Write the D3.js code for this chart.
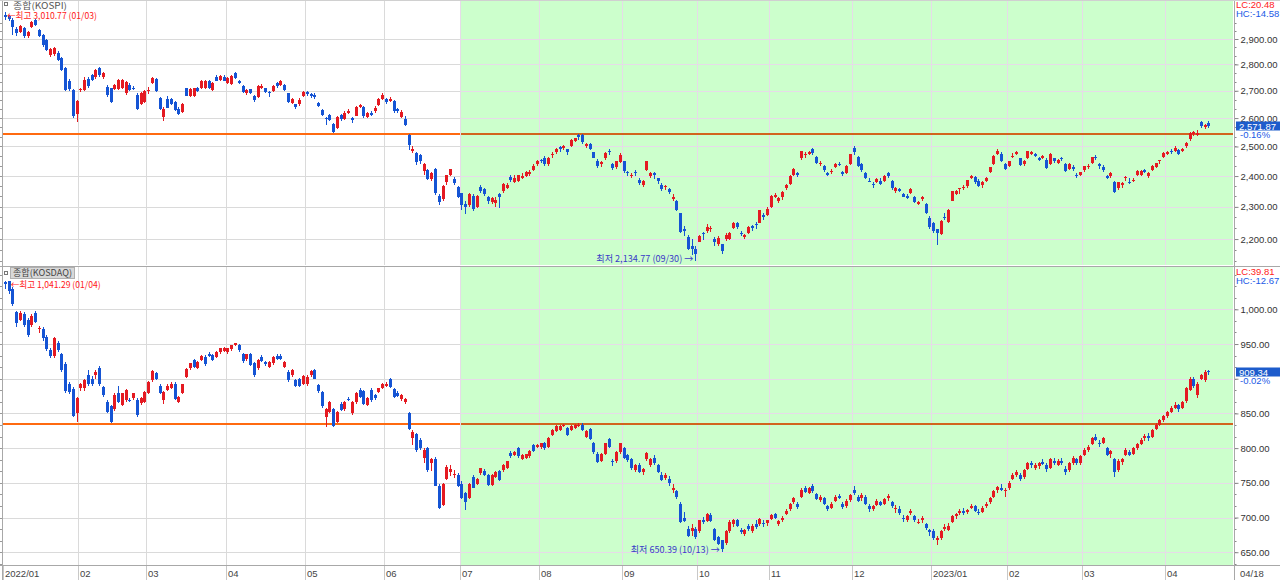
<!DOCTYPE html>
<html><head><meta charset="utf-8">
<script src="https://cdn.jsdelivr.net/npm/d3@7"></script>
<style>
body{margin:0;background:#fff;overflow:hidden}
svg{display:block}
text{font-family:"Liberation Sans",Arial,sans-serif;font-size:9.5px}
.kr{font-family:"Noto Sans CJK KR","Liberation Sans",sans-serif}
</style></head>
<body><svg id="c" width="1280" height="580"></svg>
<script>
// ---------------- DATA ----------------
const monthLabels = ["2022/01","02","03","04","05","06","07","08","09","10","11","12","2023/01","02","03","04"];
const monthDays   = [20,18,21,21,21,20,21,22,20,19,22,21,20,20,22,12];
const lastDateLabel = "04/18";
const shadeStartMonth = 6; // green region starts 2022/07

const kospiTicks  = [2200,2300,2400,2500,2600,2700,2800,2900];
const kosdaqTicks = [650,700,750,800,850,900,950,1000];
const kospiLevel  = 2543;
const kosdaqLevel = 835;

// KOSPI daily [open, high, low, close]
const kospi = [
// 2022/01
[2998,3010.77,2979,2989],[2992,2998,2972,2982],[2978,2987,2915,2950],[2942,2947,2912,2925],[2930,2958,2925,2952],[2944,2947,2905,2912],[2913,2932,2905,2928],[2947,2975,2945,2968],[2976,2980,2952,2958],[2938,2942,2908,2914],[2915,2920,2870,2878],[2898,2902,2852,2858],[2838,2866,2828,2862],[2840,2868,2832,2863],[2846,2852,2812,2818],[2823,2830,2774,2778],[2785,2790,2698,2702],[2738,2745,2700,2706],[2704,2708,2600,2608],[2613,2665,2585,2662],
// 02
[2702,2712,2695,2706],[2702,2752,2698,2741],[2745,2752,2712,2718],[2760,2765,2735,2740],[2750,2782,2745,2777],[2785,2790,2752,2760],[2752,2772,2745,2768],[2713,2720,2678,2684],[2709,2712,2654,2660],[2707,2725,2702,2720],[2707,2745,2702,2740],[2712,2746,2705,2742],[2692,2738,2686,2733],[2722,2728,2700,2704],[2712,2716,2702,2706],[2686,2690,2628,2633],[2652,2694,2648,2690],[2660,2702,2655,2699],
// 03
[2698,2715,2688,2704],[2728,2752,2725,2748],[2743,2748,2696,2700],[2672,2676,2630,2634],[2603,2640,2588,2634],[2670,2682,2635,2637],[2668,2672,2648,2650],[2658,2662,2625,2630],[2634,2640,2610,2614],[2622,2656,2618,2652],[2709,2712,2680,2682],[2682,2712,2678,2706],[2679,2712,2675,2709],[2709,2714,2695,2700],[2709,2740,2705,2736],[2712,2740,2708,2735],[2738,2742,2705,2710],[2703,2734,2698,2730],[2753,2760,2735,2738],[2740,2760,2735,2757],[2753,2758,2735,2738],
// 04
[2730,2752,2725,2748],[2725,2758,2720,2755],[2768,2772,2745,2748],[2738,2742,2724,2728],[2718,2720,2692,2696],[2690,2706,2686,2702],[2705,2708,2688,2692],[2680,2684,2660,2666],[2675,2720,2672,2716],[2712,2725,2706,2718],[2710,2712,2692,2696],[2696,2700,2676,2692],[2700,2722,2695,2719],[2728,2732,2710,2718],[2720,2740,2718,2735],[2722,2724,2700,2704],[2690,2692,2655,2657],[2655,2672,2650,2668],[2650,2652,2632,2639],[2650,2672,2645,2667],[2680,2700,2676,2695],
// 05
[2695,2700,2680,2687],[2688,2692,2674,2680],[2685,2690,2670,2677],[2655,2660,2640,2644],[2628,2632,2606,2610],[2600,2604,2576,2596],[2610,2614,2588,2592],[2580,2582,2546,2550],[2565,2606,2562,2604],[2610,2614,2590,2596],[2596,2624,2592,2620],[2620,2632,2615,2626],[2600,2604,2582,2592],[2608,2642,2606,2639],[2640,2652,2635,2647],[2640,2642,2602,2606],[2605,2622,2600,2617],[2620,2624,2606,2612],[2625,2642,2620,2638],[2648,2672,2645,2670],[2670,2690,2665,2686],
// 06
[2668,2672,2650,2659],[2662,2676,2658,2671],[2662,2664,2620,2626],[2632,2638,2618,2626],[2604,2630,2600,2623],[2598,2606,2570,2576],[2540,2545,2488,2504],[2484,2500,2477,2493],[2479,2482,2436,2447],[2470,2475,2440,2451],[2418,2442,2403,2441],[2420,2424,2388,2391],[2390,2412,2385,2409],[2424,2428,2338,2343],[2335,2341,2306,2314],[2325,2370,2320,2367],[2380,2403,2372,2402],[2405,2424,2400,2422],[2390,2396,2372,2378],[2365,2368,2328,2333],
// 07
[2343,2346,2291,2305],[2310,2320,2276,2300],[2305,2345,2300,2342],[2335,2341,2288,2292],[2300,2338,2296,2334],[2365,2369,2345,2351],[2358,2362,2336,2340],[2330,2334,2310,2318],[2314,2333,2310,2329],[2312,2332,2300,2322],[2342,2346,2296,2331],[2350,2378,2346,2375],[2362,2377,2358,2371],[2398,2402,2381,2387],[2380,2404,2376,2393],[2385,2405,2382,2403],[2395,2410,2390,2401],[2400,2418,2396,2413],[2406,2419,2400,2415],[2420,2440,2418,2435],[2440,2455,2434,2452],
// 08
[2455,2458,2442,2452],[2460,2466,2432,2440],[2440,2464,2435,2461],[2470,2480,2460,2473],[2480,2495,2475,2491],[2497,2500,2480,2493],[2495,2506,2488,2503],[2490,2492,2470,2481],[2500,2525,2498,2524],[2520,2530,2515,2528],[2540,2543,2523,2534],[2540,2542,2510,2516],[2500,2512,2494,2508],[2510,2512,2487,2493],[2480,2482,2460,2462],[2452,2456,2426,2435],[2440,2452,2430,2447],[2460,2480,2455,2477],[2484,2490,2470,2481],[2440,2444,2421,2427],[2430,2452,2425,2451],[2446,2476,2444,2472],
// 09
[2450,2452,2410,2416],[2415,2418,2400,2409],[2400,2410,2395,2404],[2412,2420,2400,2410],[2388,2392,2370,2376],[2370,2386,2365,2384],[2420,2450,2418,2450],[2400,2412,2395,2411],[2410,2414,2390,2402],[2392,2395,2375,2383],[2372,2376,2352,2356],[2364,2372,2355,2368],[2356,2360,2340,2347],[2325,2340,2320,2332],[2320,2322,2286,2290],[2280,2282,2219,2221],[2230,2240,2210,2224],[2206,2212,2168,2169],[2180,2200,2152,2171],[2170,2180,2134.77,2155],
// 10
[2192,2212,2190,2209],[2220,2222,2198,2215],[2225,2245,2218,2238],[2230,2240,2222,2233],[2200,2205,2180,2192],[2185,2208,2180,2202],[2185,2186,2156,2163],[2200,2218,2195,2213],[2200,2222,2196,2220],[2235,2252,2230,2250],[2248,2252,2232,2237],[2220,2225,2208,2218],[2205,2215,2200,2213],[2220,2240,2215,2236],[2240,2244,2225,2235],[2245,2252,2230,2242],[2250,2290,2248,2289],[2275,2280,2260,2268],[2275,2300,2270,2294],
// 11
[2300,2338,2298,2335],[2330,2345,2328,2337],[2318,2332,2312,2329],[2330,2350,2322,2349],[2360,2375,2355,2372],[2375,2402,2372,2399],[2405,2426,2400,2424],[2410,2414,2398,2403],[2460,2485,2455,2483],[2470,2480,2462,2475],[2475,2485,2470,2480],[2490,2495,2472,2477],[2465,2468,2440,2443],[2440,2452,2432,2444],[2435,2438,2415,2420],[2410,2414,2400,2405],[2415,2422,2408,2418],[2430,2445,2428,2441],[2440,2446,2432,2438],[2412,2416,2401,2408],[2410,2436,2408,2433],[2440,2474,2436,2473],
// 12
[2495,2500,2470,2480],[2465,2468,2430,2434],[2440,2445,2415,2419],[2410,2412,2390,2393],[2385,2392,2380,2383],[2375,2380,2362,2371],[2380,2394,2376,2389],[2385,2392,2370,2373],[2385,2402,2380,2400],[2410,2415,2395,2399],[2385,2388,2355,2361],[2350,2365,2345,2360],[2358,2362,2348,2352],[2340,2345,2330,2333],[2335,2342,2325,2329],[2345,2360,2340,2357],[2330,2335,2312,2314],[2310,2320,2305,2317],[2325,2336,2318,2333],[2310,2312,2278,2280],[2265,2270,2232,2236],
// 2023/01
[2249,2253,2220,2226],[2230,2232,2181,2219],[2215,2260,2212,2256],[2268,2280,2258,2265],[2253,2292,2250,2290],[2320,2352,2318,2350],[2340,2355,2338,2351],[2356,2362,2340,2360],[2362,2370,2355,2365],[2366,2388,2360,2386],[2395,2405,2390,2400],[2398,2400,2375,2379],[2385,2390,2365,2368],[2372,2385,2362,2380],[2385,2396,2380,2395],[2415,2430,2410,2429],[2440,2470,2438,2469],[2475,2490,2470,2484],[2475,2480,2448,2450],[2440,2445,2420,2425],
// 02
[2435,2452,2430,2450],[2465,2476,2460,2469],[2475,2485,2470,2480],[2460,2462,2435,2438],[2440,2455,2435,2452],[2460,2485,2458,2484],[2475,2485,2470,2482],[2475,2478,2465,2469],[2460,2465,2450,2453],[2462,2472,2458,2466],[2455,2460,2425,2428],[2440,2476,2438,2475],[2460,2462,2445,2451],[2445,2458,2440,2455],[2460,2465,2450,2459],[2440,2442,2415,2418],[2425,2442,2420,2439],[2430,2438,2418,2424],[2405,2410,2395,2403],[2405,2415,2400,2413],
// 03
[2420,2435,2415,2432],[2430,2440,2425,2432],[2445,2465,2440,2463],[2465,2470,2455,2463],[2440,2445,2425,2432],[2430,2436,2415,2419],[2400,2405,2390,2395],[2400,2415,2395,2411],[2380,2385,2345,2349],[2360,2382,2355,2380],[2370,2382,2362,2378],[2392,2400,2385,2396],[2380,2392,2375,2379],[2385,2395,2380,2388],[2402,2420,2400,2417],[2405,2420,2400,2416],[2420,2425,2410,2415],[2400,2412,2395,2409],[2420,2436,2418,2434],[2430,2445,2428,2444],[2450,2455,2440,2453],[2465,2480,2462,2477],
// 04
[2475,2485,2470,2480],[2485,2490,2475,2480],[2485,2500,2480,2495],[2488,2492,2470,2474],[2485,2495,2480,2490],[2500,2515,2495,2512],[2525,2550,2520,2548],[2545,2555,2535,2551],[2540,2556,2535,2548],[2585,2590,2565,2571],[2568,2580,2560,2576],[2584,2588,2566,2571.87]
];

// KOSDAQ daily [open, high, low, close]
const kosdaq = [
// 2022/01
[1040,1040.6,1030,1036],[1040.5,1041.29,1022,1026],[1030,1032,1005,1008],[996,998,975,980],[985,997,983,995],[993,996,975,978],[985,988,960,963],[977,993,974,991],[994,998,980,982],[971,976,966,973],[972,975,955,958],[960,963,940,943],[941,945,930,933],[933,960,930,958],[951,955,938,941],[935,937,910,912],[921,924,880,882],[893,896,878,881],[885,888,845,847],[851,874,837,872],
// 02
[887,894,883,892],[886,900,883,898],[905,912,890,893],[900,904,890,892],[905,912,900,910],[915,918,890,893],[888,890,874,876],[867,870,850,852],[860,862,836,838],[856,879,854,877],[879,889,865,867],[862,880,860,879],[869,885,866,884],[870,872,866,869],[872,880,870,879],[869,872,845,848],[865,873,862,872],[867,883,865,881],
// 03
[880,897,878,896],[898,913,896,911],[908,910,898,900],[890,892,878,880],[869,882,864,881],[884,892,882,890],[887,895,885,893],[893,895,869,871],[867,875,865,874],[880,893,878,892],[903,915,901,914],[915,923,913,922],[927,929,915,917],[916,926,914,924],[927,934,925,933],[932,934,919,921],[936,938,932,933],[934,936,925,927],[932,940,930,939],[938,945,936,944],[940,946,938,945],
// 04
[938,945,936,944],[943,949,940,948],[949,952,947,951],[948,950,939,941],[936,937,923,925],[929,936,926,935],[935,937,918,920],[922,924,903,905],[915,928,913,927],[932,934,924,925],[924,926,919,921],[917,925,915,924],[922,933,920,932],[933,935,927,929],[933,936,927,929],[917,925,915,924],[910,912,896,898],[905,914,902,912],[898,900,888,890],[899,901,888,890],[893,906,891,904],
// 05
[892,905,890,903],[905,912,903,911],[912,914,899,900],[891,893,880,882],[881,883,858,860],[845,858,831,857],[852,868,850,867],[856,858,830,832],[838,853,836,852],[863,866,853,855],[856,868,854,867],[871,874,868,870],[850,868,848,867],[866,881,864,880],[884,886,872,874],[882,884,862,864],[862,873,860,872],[884,886,867,869],[876,878,870,872],[881,887,879,886],[887,894,885,893],
// 06
[890,895,888,893],[899,901,886,888],[885,887,872,874],[880,882,873,875],[871,878,868,876],[866,872,864,871],[850,852,826,828],[815,826,804,823],[820,822,795,797],[812,814,798,800],[786,800,778,798],[800,802,766,768],[779,786,767,784],[785,787,745,746],[746,748,713,714],[718,750,716,749],[756,775,754,773],[766,775,760,770],[762,768,757,763],[762,764,744,745],
// 07
[748,752,727,728],[735,737,711,722],[728,750,726,749],[759,761,742,743],[749,757,747,756],[764,772,762,771],[767,770,760,761],[762,763,745,747],[747,763,745,762],[759,767,757,766],[767,769,752,754],[768,777,766,776],[772,782,770,781],[793,796,786,788],[790,796,788,795],[800,802,786,788],[785,791,783,790],[786,792,784,791],[788,797,786,796],[804,806,794,796],[802,806,800,805],
// 08
[801,808,799,807],[807,809,798,800],[802,816,800,815],[819,827,817,826],[825,833,823,832],[826,833,824,832],[833,835,831,834],[829,831,818,819],[826,834,824,832],[829,835,827,834],[832,836,830,833],[834,836,824,826],[816,826,814,825],[827,829,811,813],[807,809,792,794],[792,794,779,780],[781,793,780,792],[792,808,790,807],[813,815,800,802],[782,784,774,780],[781,796,779,795],[794,808,792,807],
// 09
[800,802,784,786],[790,792,780,783],[784,786,769,771],[768,777,766,776],[776,778,764,766],[766,772,762,770],[784,795,782,793],[776,786,773,784],[786,790,776,778],[775,777,764,766],[762,765,752,754],[757,764,754,762],[756,760,746,750],[740,748,735,742],[738,740,726,729],[720,722,692,693],[700,708,693,695],[684,688,672,674],[680,690,674,685],[684,686,669,672],
// 10
[680,697,678,696],[697,701,690,693],[695,707,693,705],[703,706,693,695],[683,685,666,668],[672,674,660,662],[667,668,650.39,655],[663,682,661,680],[680,696,678,694],[690,698,686,696],[696,698,686,688],[682,685,676,679],[676,684,674,682],[688,690,680,683],[680,690,678,688],[690,696,684,686],[690,700,688,698],[692,696,686,690],[692,697,688,696],
// 11
[698,705,696,703],[705,707,698,700],[690,697,688,695],[697,702,694,699],[705,712,703,710],[712,721,710,720],[722,730,720,728],[720,722,712,715],[730,742,728,740],[742,746,735,737],[736,744,734,742],[745,748,736,738],[734,736,725,727],[725,732,722,729],[728,730,718,720],[716,718,710,713],[714,722,712,720],[724,732,722,730],[731,734,726,728],[720,722,713,715],[716,726,714,724],[725,734,722,732],
// 12
[740,746,732,735],[730,732,722,724],[728,735,724,733],[730,732,718,720],[716,720,708,712],[712,718,710,716],[718,726,716,724],[722,724,716,718],[720,728,718,726],[728,734,724,731],[722,724,714,716],[712,718,706,714],[712,716,704,706],[700,703,694,698],[696,704,694,702],[706,712,704,710],[702,704,694,696],[692,698,690,694],[696,702,692,700],[690,692,682,685],[682,684,673,679],
// 2023/01
[680,684,668,671],[668,673,660,670],[670,682,668,680],[684,690,680,686],[682,692,680,688],[694,704,692,702],[702,707,698,705],[706,712,703,710],[710,714,704,706],[708,713,705,711],[714,720,712,717],[716,718,708,710],[708,712,704,706],[708,716,706,714],[716,722,714,720],[722,730,720,728],[730,740,728,738],[740,746,736,744],[742,748,738,740],[738,742,730,740],
// 02
[742,752,740,750],[756,764,754,762],[762,768,758,766],[762,764,752,756],[758,770,756,768],[770,780,768,778],[778,782,772,775],[772,778,768,776],[774,780,770,778],[780,784,775,777],[776,778,766,770],[772,786,770,784],[782,786,776,778],[776,784,774,782],[782,786,776,778],[770,774,762,766],[768,780,766,778],[778,788,776,786],[784,786,776,778],[778,790,776,788],
// 03
[790,800,788,798],[798,805,794,802],[806,816,804,814],[816,820,810,812],[808,812,802,806],[808,816,806,814],[800,802,788,790],[792,798,786,796],[785,786,758,765],[768,784,766,782],[780,786,776,784],[790,800,788,798],[795,798,788,790],[792,802,790,800],[800,808,798,806],[806,814,804,812],[814,820,810,818],[818,822,810,815],[816,828,814,826],[828,836,826,834],[834,842,832,840],[840,848,838,846],
// 04
[846,854,844,852],[852,860,850,858],[858,866,856,862],[862,864,852,857],[858,868,856,866],[868,888,865,886],[884,902,882,900],[900,903,886,889],[876,895,872,893],[900,907,898,905],[898,912,896,910],[911,913,906,909.34]
];

const kospiText  = {name:"종합(KOSPI)",  hi:"←최고 3,010.77 (01/03)", lo:"최저 2,134.77 (09/30) →", lc:"LC:20.48", hc:"HC:-14.58", last:"2,571.87", chg:"-0.16%"};
const kosdaqText = {name:"종합(KOSDAQ)", hi:"←최고 1,041.29 (01/04)", lo:"최저 650.39 (10/13) →",  lc:"LC:39.81", hc:"HC:-12.67", last:"909.34",   chg:"-0.02%"};

// ---------------- LAYOUT ----------------
const svg = d3.select("#c");
const defs = svg.append("defs");
const plotL = 3, plotR = 1233, axisX = 1234.5;
const RED = "#e41a22", BLUE = "#1554d4";
const nSlots = 326;
const x = d3.scaleBand().domain(d3.range(nSlots)).range([plotL, plotR]).padding(0);
const cx = i => x(i) + x.bandwidth()/2;

const monthStart = [];
monthDays.reduce((acc, n) => { monthStart.push(acc); return acc + n; }, 0);
const shadeX = Math.round(x(monthStart[shadeStartMonth]));

const yTop = d3.scaleLog().domain([2122.6, 3060.5]).range([265, 0]);
const yBot = d3.scaleLinear().domain([631.6, 1061]).range([565, 267]);

svg.append("rect").attr("width",1280).attr("height",580).attr("fill","#fff");

function minorTicks(ticks){
  const out=[]; const step=ticks[1]-ticks[0];
  for(let v=ticks[0]-step; v<=ticks[ticks.length-1]+step; v+=step/3) out.push(v);
  return out;
}

function panel(data, y, t, b, ticks, level, txt, hideLabels){
  const g = svg.append("g");
  const cid = "clip" + t;
  defs.append("clipPath").attr("id", cid).append("rect")
    .attr("x", plotL).attr("y", t).attr("width", plotR - plotL).attr("height", b - t);

  // green shade
  g.append("rect").attr("x", shadeX).attr("y", t).attr("width", plotR - shadeX).attr("height", b - t)
    .attr("fill", "#ccffcc");

  // grid
  const grid = g.append("g").attr("shape-rendering","crispEdges");
  ticks.forEach(v => {
    const yy = Math.round(y(v)) + 0.5;
    grid.append("line").attr("x1", plotL).attr("x2", shadeX).attr("y1", yy).attr("y2", yy).attr("stroke", "#dadada");
    grid.append("line").attr("x1", shadeX).attr("x2", plotR).attr("y1", yy).attr("y2", yy).attr("stroke", "#e6dbe8");
  });
  monthStart.slice(1).forEach(s => {
    const xx = Math.round(x(s)) + 0.5;
    grid.append("line").attr("x1", xx).attr("x2", xx).attr("y1", t).attr("y2", b)
      .attr("stroke", xx >= shadeX ? "#e6dbe8" : "#dadada");
  });

  // level line
  const ly = Math.round(y(level));
  g.append("rect").attr("x", plotL).attr("y", ly - 1).attr("width", shadeX - plotL).attr("height", 2).attr("fill", "#ff6a10");
  g.append("rect").attr("x", shadeX + 1).attr("y", ly - 1).attr("width", plotR - shadeX - 1).attr("height", 2).attr("fill", "#d2641e");

  // candles
  const cg = g.append("g").attr("clip-path", `url(#${cid})`).attr("shape-rendering","crispEdges");
  const col = d => d[3] >= d[0] ? RED : BLUE;
  cg.selectAll("rect.wick").data(data).join("rect").attr("class","wick")
    .attr("x", (d,i) => Math.round(cx(i)))
    .attr("y", d => y(d[1]))
    .attr("width", 1)
    .attr("height", d => Math.max(1, y(d[2]) - y(d[1])))
    .attr("fill", col);
  cg.selectAll("rect.body").data(data).join("rect").attr("class","body")
    .attr("x", (d,i) => Math.round(cx(i)) - 1)
    .attr("y", d => y(Math.max(d[0], d[3])))
    .attr("width", 3)
    .attr("height", d => Math.max(1, Math.abs(y(d[0]) - y(d[3]))))
    .attr("fill", col);

  // right axis
  const ax = svg.append("g").attr("transform", `translate(${axisX},0)`);
  const axis = d3.axisRight(y).tickValues(ticks).tickSize(4).tickSizeOuter(0)
    .tickFormat(d => hideLabels.includes(d) ? "" : d3.format(",.2f")(d));
  ax.call(axis);
  ax.select(".domain").remove();
  ax.selectAll(".tick line").attr("stroke", "#888");
  ax.selectAll(".tick text").attr("x", 6).attr("fill", "#333").style("font-size","9.5px")
    .style("font-family","Liberation Sans, Arial, sans-serif");
  const mt = minorTicks(ticks).filter(v => y(v) > t + 1 && y(v) < b - 1);
  ax.selectAll("line.mt").data(mt).join("line").attr("class","mt")
    .attr("x1", 0).attr("x2", 2).attr("y1", v => Math.round(y(v)) + 0.5).attr("y2", v => Math.round(y(v)) + 0.5)
    .attr("stroke", "#888");
  // left ticks
  svg.append("g").selectAll("line").data(mt).join("line")
    .attr("x1", 0).attr("x2", 2.5).attr("y1", v => Math.round(y(v)) + 0.5).attr("y2", v => Math.round(y(v)) + 0.5)
    .attr("stroke", "#999");

  // legend
  if (t < 10) {
    svg.append("rect").attr("x", 4.5).attr("y", 2.5).attr("width", 3).attr("height", 3).attr("fill", "#fff").attr("stroke", "#777");
    svg.append("text").attr("class","kr").attr("x", 13).attr("y", 8.5).attr("fill", "#555")
      .style("font-size","9px").attr("textLength", 54).attr("lengthAdjust","spacingAndGlyphs").text(txt.name);
  } else {
    svg.append("rect").attr("x", 10.5).attr("y", t + 0.5).attr("width", 64).attr("height", 11).attr("fill", "#d8d8d8").attr("stroke", "#b0b0b0");
    svg.append("rect").attr("x", 4.5).attr("y", t + 4.5).attr("width", 3).attr("height", 3).attr("fill", "#fff").attr("stroke", "#777");
    svg.append("text").attr("class","kr").attr("x", 13).attr("y", t + 9).attr("fill", "#444")
      .style("font-size","9px").attr("textLength", 59).attr("lengthAdjust","spacingAndGlyphs").text(txt.name);
  }

  // high / low annotations
  const hiI = d3.maxIndex(data, d => d[1]);
  const loI = d3.minIndex(data, d => d[2]);
  const hy = y(data[hiI][1]);
  svg.append("text").attr("class","kr").attr("x", cx(hiI) + 2).attr("y", hy + 7.5).attr("fill", "#ff1a1a")
    .style("font-size","9px").attr("textLength", 90).attr("lengthAdjust","spacingAndGlyphs").text(txt.hi);
  const lyy = y(data[loI][2]);
  svg.append("text").attr("class","kr").attr("x", cx(loI) - 2).attr("y", lyy + 1.5).attr("text-anchor","end").attr("fill", "#3a3ac8")
    .style("font-size","9.5px").attr("textLength", t < 10 ? 97 : 89).attr("lengthAdjust","spacingAndGlyphs").text(txt.lo);

  // LC / HC
  svg.append("text").attr("x", 1236).attr("y", t + 7.5).attr("fill", "#ff1a1a").text(txt.lc);
  svg.append("text").attr("x", 1236).attr("y", t + 16.5).attr("fill", "#1a5ae6").text(txt.hc);

  // last price box
  const last = data[data.length - 1][3];
  const py = Math.round(y(last));
  svg.append("rect").attr("x", 1236).attr("y", py - 4.5).attr("width", 44).attr("height", 9).attr("fill", "#1d5ccc");
  svg.append("text").attr("x", 1239).attr("y", py + 3.5).attr("fill", "#fff").text(txt.last);
  svg.append("text").attr("x", 1240).attr("y", py + 12).attr("fill", "#1a5ae6").text(txt.chg);
}

panel(kospi,  yTop, 0,   265, kospiTicks,  kospiLevel,  kospiText, []);
panel(kosdaq, yBot, 267, 565, kosdaqTicks, kosdaqLevel, kosdaqText, [900]);

// frame lines
const fr = svg.append("g").attr("shape-rendering","crispEdges").attr("stroke","#a8a8a8");
fr.append("line").attr("x1", 0).attr("x2", 1280).attr("y1", 266.5).attr("y2", 266.5);
fr.append("line").attr("x1", 0).attr("x2", 1280).attr("y1", 565.5).attr("y2", 565.5);
fr.append("line").attr("x1", axisX).attr("x2", axisX).attr("y1", 0).attr("y2", 580);
fr.append("line").attr("x1", 2.5).attr("x2", 2.5).attr("y1", 0).attr("y2", 580);
fr.append("line").attr("x1", 0).attr("x2", 1280).attr("y1", 0.5).attr("y2", 0.5).attr("stroke","#d0d0d0");

// x axis
const xa = svg.append("g");
xa.selectAll("line").data(monthStart).join("line")
  .attr("x1", s => Math.round(x(s)) + 0.5).attr("x2", s => Math.round(x(s)) + 0.5)
  .attr("y1", 566).attr("y2", 580).attr("stroke", "#c8c8c8").attr("shape-rendering","crispEdges");
xa.selectAll("text").data(monthStart).join("text")
  .attr("x", s => Math.round(x(s)) + 2).attr("y", 577).attr("fill", "#444").text((s,i) => monthLabels[i]);
svg.append("text").attr("x", 1240).attr("y", 577).attr("fill", "#444").text(lastDateLabel);
</script></body></html>
